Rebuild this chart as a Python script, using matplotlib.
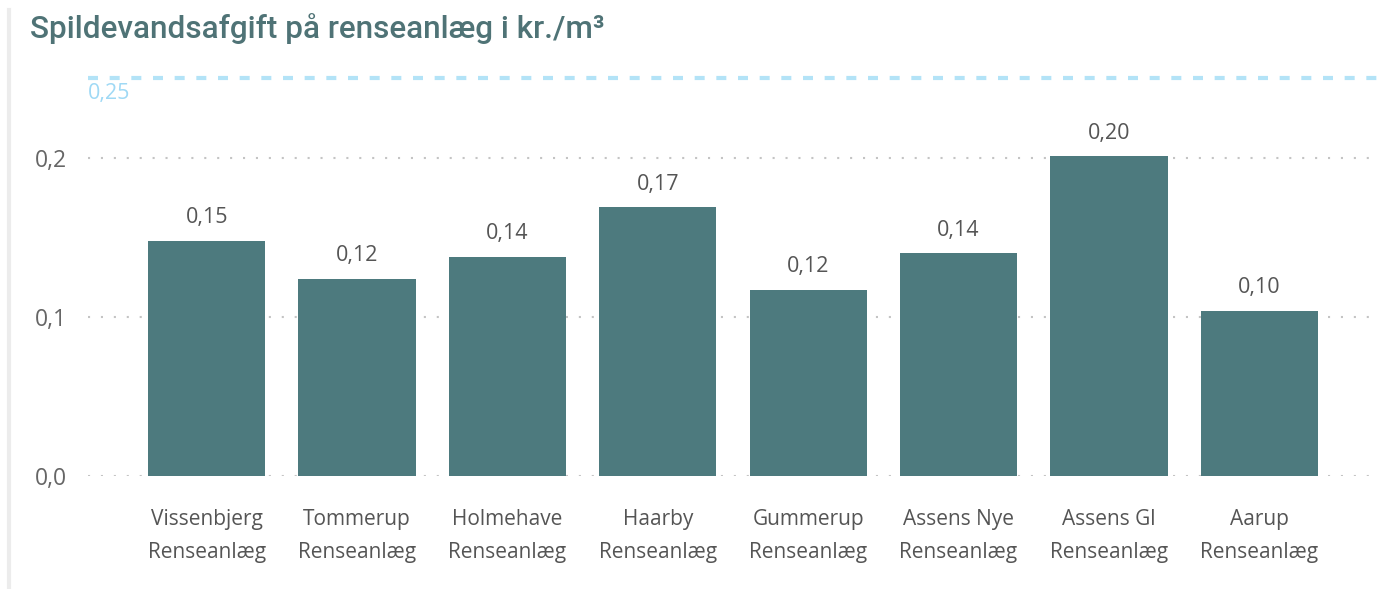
import matplotlib
matplotlib.use("Agg")
import matplotlib.pyplot as plt
from matplotlib.lines import Line2D

categories = ["Vissenbjerg\nRenseanlæg", "Tommerup\nRenseanlæg", "Holmehave\nRenseanlæg",
              "Haarby\nRenseanlæg", "Gummerup\nRenseanlæg", "Assens Nye\nRenseanlæg",
              "Assens Gl\nRenseanlæg", "Aarup\nRenseanlæg"]
values = [0.148, 0.124, 0.138, 0.169, 0.117, 0.140, 0.201, 0.104]
ref_value = 0.25
yticks = [0.0, 0.1, 0.2]
title = "Spildevandsafgift på renseanlæg i kr./m³"

W, H = 1381, 589
fig = plt.figure(figsize=(W / 100, H / 100), dpi=100)
fig.patch.set_facecolor("white")

ymax = 0.26
ax = fig.add_axes([88 / W, 1 - 476 / H, (1378 - 88) / W, (ymax * 1590) / H])
x = list(range(len(categories)))
ax.bar(x, values, width=0.78, color="#4d7a7e", zorder=3)
for xi, v in zip(x, values):
    ax.text(xi, v + 0.008, f"{v:.2f}".replace(".", ","), ha="center", va="bottom",
            fontsize=15.5, color="#555555", family="Open Sans")

ax.set_xlim(-0.79, 7.79)
ax.set_ylim(0, ymax)
ax.set_yticks(yticks)
ax.set_yticklabels([f"{t:.1f}".replace(".", ",") for t in yticks], fontsize=16.5,
                   color="#666666", family="Open Sans")
ax.set_xticks(x)
ax.set_xticklabels(categories, fontsize=15, color="#555555", family="Open Sans",
                   linespacing=1.7)
ax.tick_params(axis="both", length=0)
ax.tick_params(axis="y", pad=15)
ax.tick_params(axis="x", pad=24)
for s in ax.spines.values():
    s.set_visible(False)
for t in yticks:
    ax.axhline(t, color="#c4c4c4", lw=1.5, linestyle=(0, (1, 5.2)), zorder=1)

ax.axhline(ref_value, color="#b3e3f7", lw=3, linestyle=(0, (2.4, 2.8)), zorder=2)
ax.text(-0.79, ref_value - 0.003, f"{ref_value:.2f}".replace(".", ","), ha="left", va="top",
        fontsize=15.5, color="#9fd9f5", family="Open Sans")

fig.text(30 / W, 1 - 29 / H, title, ha="left", va="center", fontsize=22.7,
         color="#4f7376", family="Roboto", fontweight="medium")

fig.add_artist(Line2D([9 / W, 9 / W], [0, 1 - 10 / H], transform=fig.transFigure,
                      color="#ececec", lw=3))

fig.savefig("out.png", dpi=100, facecolor="white")
